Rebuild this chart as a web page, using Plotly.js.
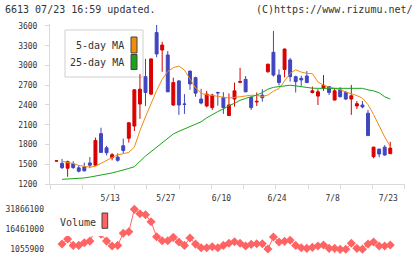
<!DOCTYPE html>
<html><head><meta charset="utf-8">
<script src="https://cdn.plot.ly/plotly-3.0.1.min.js"></script>
<style>html,body{margin:0;padding:0;background:#fff}#chart{width:420px;height:259px}</style>
</head><body><div id="chart"></div>
<script>
// ---- data ----
const dates = ['4/24','4/25','4/26','4/30','5/1','5/2','5/7','5/8','5/9','5/10',
  '5/13','5/14','5/15','5/16','5/17','5/20','5/21','5/22','5/23','5/24',
  '5/27','5/28','5/29','5/30','5/31','6/3','6/4','6/5','6/6','6/7',
  '6/10','6/11','6/12','6/13','6/14','6/17','6/18','6/19','6/20','6/21',
  '6/24','6/25','6/26','6/27','6/28','7/1','7/2','7/3','7/4','7/5',
  '7/8','7/9','7/10','7/11','7/12','7/16','7/17','7/18','7/19','7/22','7/23'];
const labelDates = ['5/13','5/27','6/10','6/24','7/8','7/23'];
const openP  = [1548,1514,1440,1505,1445,1460,1520,1485,1965,1750,1600,1610,1780,1895,2080,2415,2830,2565,3500,3235,
  3160,2400,2765,2415,2915,2815,2490,2385,2360,2590,2515,2240,2490,2745,2790,2515,2445,2550,2905,3200,
  2855,2940,3085,2830,2805,2840,2590,2535,2655,2680,2475,2630,2590,2490,2385,2400,2275,1615,1730,1760,1660];
const highP  = [1555,1580,1555,1545,1480,1525,1610,1905,2055,1780,1670,1665,1890,2135,2640,2870,3100,3105,3615,3360,
  3220,2815,2780,2565,2920,2830,2645,2615,2570,2600,2595,2575,2740,2965,2840,2520,2590,2640,3025,3525,
  2940,3255,3115,2845,2845,2915,2680,2640,2855,2690,2655,2670,2615,2705,2460,2460,2325,1765,1735,1790,1840];
const lowP   = [1545,1428,1310,1430,1375,1390,1440,1480,1675,1635,1560,1540,1665,1830,2005,2190,2385,2550,3125,2905,
  2595,2385,2250,2265,2630,2525,2410,2365,2325,2390,2265,2235,2375,2730,2595,2325,2385,2450,2890,2830,
  2695,2820,2755,2590,2690,2735,2575,2400,2615,2550,2470,2515,2475,2250,2340,2350,1930,1590,1605,1630,1655];
const closeP = [1552,1448,1540,1450,1395,1400,1485,1860,1680,1675,1645,1560,1710,2130,2630,2640,2590,3100,3175,3310,
  2600,2740,2400,2410,2720,2580,2430,2565,2550,2585,2360,2400,2615,2755,2600,2360,2455,2510,3020,2855,
  2740,3250,2830,2755,2780,2740,2615,2600,2700,2590,2615,2525,2490,2540,2420,2370,1935,1760,1655,1640,1745];
const ma5  = [null,1545,1532,1510,1482,1465,1455,1470,1514,1560,1610,1645,1660,1680,1760,2010,2221,2430,2620,2790,
  2909,2967,2990,2930,2790,2660,2577,2555,2545,2537,2518,2505,2510,2525,2537,2548,2545,2530,2552,2610,
  2650,2768,2880,2935,2900,2881,2875,2750,2700,2672,2655,2632,2598,2570,2543,2503,2405,2255,2080,1915,1767];
const ma25 = [null,1271,1275,1278,1282,1292,1305,1318,1337,1353,1368,1390,1408,1436,1463,1550,1625,1691,1760,1830,
  1900,1960,2000,2035,2065,2110,2145,2205,2255,2300,2340,2390,2425,2470,2500,2527,2550,2590,2640,2668,
  2680,2699,2700,2690,2675,2665,2655,2653,2653,2653,2653,2653,2653,2653,2653,2653,2630,2615,2585,2525,2490];
const volume = [null,5140000,9000000,4100000,4100000,6100000,7400000,16000000,12800000,7400000,
  3600000,4100000,13400000,14600000,31866100,28500000,27700000,22300000,10800000,7700000,
  7700000,10300000,6700000,4100000,9800000,5100000,2300000,2300000,3100000,2300000,
  4100000,5700000,6900000,5700000,3600000,4900000,5400000,5400000,1300000,10500000,
  6700000,7200000,8000000,4100000,2300000,1800000,2600000,3600000,4400000,1800000,
  1800000,1055900,1100000,5700000,1800000,1200000,5100000,6700000,3600000,3600000,4400000];
const priceTicks = [1200,1500,1800,2100,2400,2700,3000,3300,3600];
const volTicks = [1055900,16461000,31866100];

// ---- layout helpers ----
const W = 420, H = 259;
const px = x => x / W, py = y => 1 - y / H;
const idx = dates.map((d, i) => i);
const xr = [-1.168, 62.65];
const gridTicks = Array.from({length: 12}, (_, k) => xr[0] + k * (xr[1] - xr[0]) / 11);
gridTicks[0] += 0.01; gridTicks[11] -= 0.01;
const RED = '#d80000', BLUE = '#4046bf', ORANGE = '#f08c10', GREEN = '#1aa31a', VOL = '#ff6464';
const AX = '#d9d9d9', TXT = '#333333';
const MONO = 'DejaVu Sans Mono, monospace';
const tickFont = {family: MONO, size: 8, color: TXT};

const traces = [
  {type: 'candlestick', x: idx, open: openP, high: highP, low: lowP, close: closeP,
   xaxis: 'x', yaxis: 'y', whiskerwidth: 0, hoverinfo: 'skip', showlegend: false,
   increasing: {line: {color: RED, width: 1}, fillcolor: RED},
   decreasing: {line: {color: BLUE, width: 1}, fillcolor: BLUE}},
  {type: 'scatter', mode: 'lines', x: idx, y: ma5, xaxis: 'x', yaxis: 'y',
   line: {color: ORANGE, width: 1}, hoverinfo: 'skip', showlegend: false},
  {type: 'scatter', mode: 'lines', x: idx, y: ma25, xaxis: 'x', yaxis: 'y',
   line: {color: GREEN, width: 1}, hoverinfo: 'skip', showlegend: false},
  {type: 'scatter', mode: 'lines+markers', x: idx, y: volume, xaxis: 'x2', yaxis: 'y2',
   line: {color: VOL, width: 1}, marker: {symbol: 'diamond', size: 7, color: VOL},
   hoverinfo: 'skip', showlegend: false}
];

const volBottom = 1055900 - (255 - 249.33) * 770255;
const volTop = volBottom + 52 * 770255;

const layout = {
  width: W, height: H, margin: {l: 0, r: 0, t: 0, b: 0},
  paper_bgcolor: '#ffffff', plot_bgcolor: '#ffffff', showlegend: false,
  boxgap: 0.25,
  xaxis: {domain: [px(50), px(405)], range: xr, anchor: 'y', showline: true, linecolor: AX, linewidth: 1,
    ticks: '', tickmode: 'array', tickvals: labelDates.map(d => dates.indexOf(d)), ticktext: labelDates,
    tickfont: tickFont, ticklabelstandoff: 6, ticklabelshift: -2,
    showgrid: false, zeroline: false, rangeslider: {visible: false}, fixedrange: true,
    minor: {tickmode: 'array', tickvals: gridTicks, ticks: 'outside', ticklen: 4, tickcolor: AX, tickwidth: 1, showgrid: false}},
  yaxis: {domain: [py(184), py(24)], range: [1200, 3630], anchor: 'x', showline: true, linecolor: AX, linewidth: 1,
    tickmode: 'array', tickvals: priceTicks, ticks: 'outside', ticklen: 4, tickcolor: AX,
    tickfont: tickFont, ticklabelstandoff: 6, showgrid: false, zeroline: false, fixedrange: true},
  xaxis2: {domain: [px(50), px(405)], range: xr, anchor: 'y2', visible: false, fixedrange: true},
  yaxis2: {domain: [py(255), py(203)], range: [volBottom, volTop], anchor: 'x2', showline: false,
    tickmode: 'array', tickvals: volTicks, tickformat: 'd', ticks: '', tickfont: tickFont,
    ticklabelstandoff: 5, showgrid: false, zeroline: false, fixedrange: true},
  shapes: [
    {type: 'rect', xref: 'paper', yref: 'paper', x0: px(65), x1: px(143), y0: py(77), y1: py(30),
     line: {color: '#cfcfcf', width: 1}, fillcolor: '#ffffff', layer: 'below'},
    {type: 'rect', xref: 'paper', yref: 'paper', x0: px(131), x1: px(137), y0: py(53), y1: py(37),
     line: {color: '#444', width: 1}, fillcolor: ORANGE, layer: 'above'},
    {type: 'rect', xref: 'paper', yref: 'paper', x0: px(131), x1: px(137), y0: py(69.5), y1: py(54.5),
     line: {color: '#444', width: 1}, fillcolor: GREEN, layer: 'above'},
    {type: 'rect', xref: 'paper', yref: 'paper', x0: px(55), x1: px(110), y0: py(236), y1: py(204),
     line: {width: 0}, fillcolor: '#ffffff', layer: 'above'},
    {type: 'rect', xref: 'paper', yref: 'paper', x0: px(102), x1: px(107.7), y0: py(228.3), y1: py(213),
     line: {color: '#444', width: 1}, fillcolor: VOL, layer: 'above'}
  ],
  annotations: [
    {xref: 'paper', yref: 'paper', x: px(3), y: py(9), xanchor: 'left', yanchor: 'middle', showarrow: false,
     text: '6613 07/23 16:59 updated.', font: {family: MONO, size: 10, color: TXT}},
    {xref: 'paper', yref: 'paper', x: px(415), y: py(9), xanchor: 'right', yanchor: 'middle', showarrow: false,
     text: '(C)https://www.rizumu.net/', font: {family: MONO, size: 10, color: TXT}},
    {xref: 'paper', yref: 'paper', x: px(126), y: py(46), xanchor: 'right', yanchor: 'middle', showarrow: false,
     text: '5-day MA', font: {family: MONO, size: 10, color: TXT}},
    {xref: 'paper', yref: 'paper', x: px(126), y: py(62.5), xanchor: 'right', yanchor: 'middle', showarrow: false,
     text: '25-day MA', font: {family: MONO, size: 10, color: TXT}},
    {xref: 'paper', yref: 'paper', x: px(58), y: py(222), xanchor: 'left', yanchor: 'middle', showarrow: false,
     text: 'Volume', font: {family: MONO, size: 10, color: TXT}}
  ]
};

Plotly.newPlot('chart', traces, layout, {staticPlot: true, displayModeBar: false});
</script>
</body></html>
